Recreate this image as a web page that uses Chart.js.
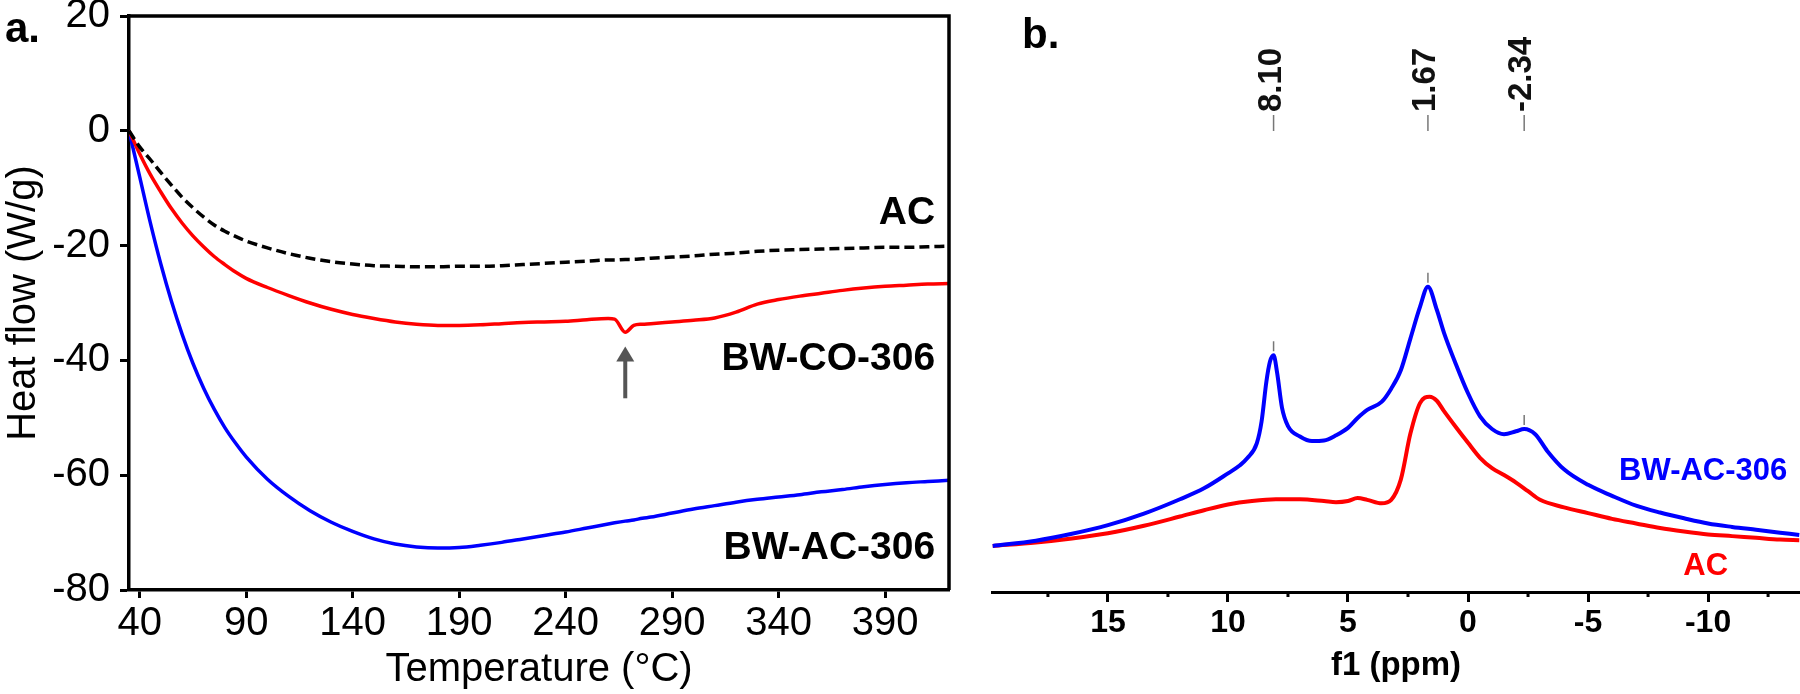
<!DOCTYPE html>
<html>
<head>
<meta charset="utf-8">
<script src="https://cdn.jsdelivr.net/npm/chart.js@4.4.1/dist/chart.umd.min.js"></script>
<style>
  html, body { margin: 0; padding: 0; background: #fff; }
  #wrap { position: relative; width: 1800px; height: 694px; overflow: hidden; }
  #dsc { position: absolute; left: 0; top: 0; }
  #nmr { position: absolute; left: 980px; top: 0; }
</style>
</head>
<body>
<div id="wrap">
  <canvas id="dsc" width="965" height="694"></canvas>
  <canvas id="nmr" width="820" height="694"></canvas>
</div>
<script>
// ---- panel a: DSC heat flow (W/g) vs temperature (°C)
const dscTemp = [35, 40, 45, 50, 55, 60, 65, 70, 75, 80, 85, 90, 100, 110, 120, 130, 140, 150, 160, 170,
  180, 190, 200, 210, 220, 230, 240, 250, 260, 263, 268, 272, 276, 280, 290, 300, 310, 320, 330, 340,
  350, 360, 370, 380, 390, 400, 410, 420];
const flowAC = [0, -2.8, -5.0, -7.3, -9.5, -11.6, -13.4, -15.0, -16.4, -17.5, -18.4, -19.2, -20.4, -21.4, -22.2, -22.8, -23.2, -23.5, -23.6, -23.7,
  -23.7, -23.6, -23.6, -23.5, -23.3, -23.1, -22.9, -22.7, -22.5, -22.5, -22.4, -22.4, -22.3, -22.2, -22.0, -21.8, -21.5, -21.3, -21.0, -20.8,
  -20.7, -20.6, -20.5, -20.4, -20.3, -20.3, -20.2, -20.1];
const flowCO = [0, -4.0, -7.6, -10.7, -13.6, -16.1, -18.3, -20.2, -21.9, -23.3, -24.6, -25.7, -27.3, -28.7, -30.0, -31.1, -32.0, -32.7, -33.3, -33.7,
  -33.9, -33.9, -33.8, -33.6, -33.4, -33.3, -33.2, -32.9, -32.7, -32.8, -35.1, -33.9, -33.7, -33.6, -33.3, -33.0, -32.6, -31.6, -30.2, -29.4,
  -28.8, -28.3, -27.8, -27.4, -27.1, -26.9, -26.7, -26.6];
const flowBW = [0, -8.0, -16.0, -23.3, -29.8, -35.5, -40.5, -44.8, -48.5, -51.7, -54.4, -56.8, -60.7, -63.7, -66.2, -68.2, -69.8, -71.1, -72.0, -72.5,
  -72.7, -72.6, -72.2, -71.7, -71.1, -70.5, -69.9, -69.2, -68.5, -68.3, -68.0, -67.8, -67.5, -67.3, -66.6, -65.9, -65.3, -64.7, -64.2, -63.8,
  -63.4, -62.9, -62.5, -62.0, -61.6, -61.3, -61.1, -60.9];
const dscTicksX = [40, 90, 140, 190, 240, 290, 340, 390];

// ---- panel b: 1H NMR, f1 (ppm), intensity in arbitrary units
const ppmBW = [19.8, 18, 16.5, 15, 13.5, 12, 11, 10, 9.5, 9.2, 8.8, 8.6, 8.4, 8.25, 8.1, 7.95, 7.75, 7.5, 7.0, 6.5,
  6.0, 5.5, 5.0, 4.6, 4.2, 3.6, 3.2, 2.8, 2.4, 2.0, 1.67, 1.3, 1.0, 0.5, 0, -0.5, -1.0, -1.5, -2.0, -2.34,
  -2.8, -3.3, -4.0, -5.0, -6.0, -7.0, -8.0, -9.0, -10.0, -11.0, -12.0, -13.0, -13.8];
const intBW = [8.0, 8.9, 10.1, 11.6, 13.6, 16.1, 18.0, 20.6, 22.0, 23.2, 25.8, 29.6, 36.5, 40.0, 41.1, 38.0, 32.0, 28.8, 27.0, 26.2,
  26.3, 27.2, 28.5, 30.2, 31.6, 33.0, 35.3, 38.5, 44.0, 49.5, 53.0, 49.0, 45.0, 39.5, 34.5, 30.5, 28.3, 27.4, 27.9, 28.3,
  27.4, 24.5, 21.3, 18.6, 16.7, 15.0, 13.8, 12.8, 11.9, 11.3, 10.8, 10.3, 9.9];
const ppmAC = [19.8, 18, 16.5, 15, 13.5, 12, 11, 10, 9, 8, 7, 6, 5.5, 5.0, 4.6, 4.2, 3.6, 3.2, 2.8, 2.4,
  2.0, 1.6, 1.3, 1.0, 0.5, 0, -0.5, -1.0, -1.5, -2.0, -2.5, -3.0, -4.0, -5.0, -6.0, -7.0, -8.0, -9.0, -10.0, -11.0,
  -12.0, -13.0, -13.8];
const intAC = [8.0, 8.6, 9.3, 10.2, 11.5, 13.1, 14.2, 15.2, 15.8, 16.1, 16.1, 15.8, 15.6, 15.8, 16.3, 16.0, 15.4, 16.0, 19.5, 27.5,
  32.8, 33.9, 33.2, 31.4, 28.6, 25.9, 23.3, 21.5, 20.3, 19.0, 17.5, 16.0, 14.7, 13.7, 12.7, 11.9, 11.1, 10.5, 10.0, 9.7,
  9.4, 9.1, 9.0];
const nmrTicksX = [15, 10, 5, 0, -5, -10];
const nmrMinorX = [17.5, 12.5, 7.5, 2.5, -2.5, -7.5, -12.5];
const peakPpm = [8.10, 1.67, -2.34];
const peakText = ['8.10', '1.67', '-2.34'];

const FAM = "'Liberation Sans', Arial, Helvetica, sans-serif";
const pts = (xs, ys) => xs.map((x, i) => ({ x: x, y: ys[i] }));

const dscDecor = {
  id: 'dscDecor',
  afterDraw(chart) {
    const { ctx, chartArea: a, scales: { x, y } } = chart;
    ctx.save();
    // top and right frame
    ctx.strokeStyle = '#000';
    ctx.lineWidth = 3.5;
    ctx.beginPath();
    ctx.moveTo(a.left, a.top);
    ctx.lineTo(a.right, a.top);
    ctx.lineTo(a.right, a.bottom);
    ctx.stroke();
    // curve labels
    ctx.fillStyle = '#000';
    ctx.font = 'bold 39px ' + FAM;
    ctx.textAlign = 'right';
    ctx.textBaseline = 'alphabetic';
    ctx.fillText('AC', x.getPixelForValue(413.5), y.getPixelForValue(-16.3));
    ctx.fillText('BW-CO-306', x.getPixelForValue(413.5), y.getPixelForValue(-41.6));
    ctx.fillText('BW-AC-306', x.getPixelForValue(413.5), y.getPixelForValue(-74.6));
    // arrow marking the dip
    const ax = x.getPixelForValue(268);
    const yTip = y.getPixelForValue(-37.6);
    const yEnd = y.getPixelForValue(-46.6);
    ctx.strokeStyle = '#555';
    ctx.fillStyle = '#555';
    ctx.lineWidth = 4;
    ctx.beginPath();
    ctx.moveTo(ax, yEnd);
    ctx.lineTo(ax, yTip + 12);
    ctx.stroke();
    ctx.beginPath();
    ctx.moveTo(ax, yTip);
    ctx.lineTo(ax - 9, yTip + 15);
    ctx.lineTo(ax + 9, yTip + 15);
    ctx.closePath();
    ctx.fill();
    // panel letter
    ctx.fillStyle = '#000';
    ctx.textAlign = 'left';
    ctx.font = 'bold 42px ' + FAM;
    ctx.fillText('a.', 5, 42);
    ctx.restore();
  }
};

new Chart(document.getElementById('dsc'), {
  type: 'line',
  data: {
    datasets: [
      { label: 'AC', data: pts(dscTemp, flowAC), borderColor: '#000', borderDash: [10, 5], borderWidth: 3.5,
        pointRadius: 0, cubicInterpolationMode: 'monotone' },
      { label: 'BW-CO-306', data: pts(dscTemp, flowCO), borderColor: '#ff0000', borderWidth: 3.5,
        pointRadius: 0, cubicInterpolationMode: 'monotone' },
      { label: 'BW-AC-306', data: pts(dscTemp, flowBW), borderColor: '#0000ff', borderWidth: 3.5,
        pointRadius: 0, cubicInterpolationMode: 'monotone' }
    ]
  },
  options: {
    responsive: false,
    animation: false,
    layout: { padding: { left: 0, top: 16, right: 16, bottom: 0 } },
    plugins: { legend: { display: false }, tooltip: { enabled: false } },
    scales: {
      x: {
        type: 'linear', min: 35, max: 420,
        afterBuildTicks: s => { s.ticks = dscTicksX.map(v => ({ value: v })); },
        afterFit: s => { s.height = 104; s.paddingLeft = 0; s.paddingRight = 0; },
        border: { color: '#000', width: 3.5 },
        grid: { drawOnChartArea: false, drawTicks: true, tickLength: 8, tickWidth: 3, tickColor: '#000' },
        ticks: { color: '#000', font: { family: FAM, size: 40 }, padding: 2, maxRotation: 0,
          callback: v => String(v) },
        title: { display: true, text: 'Temperature (°C)', color: '#000',
          font: { family: FAM, size: 40 }, padding: { top: 0, bottom: 0 } }
      },
      y: {
        min: -80, max: 20,
        ticks: { stepSize: 20, color: '#000', font: { family: FAM, size: 40 }, padding: 10 },
        afterFit: s => { s.width = 129; s.paddingTop = 0; s.paddingBottom = 0; },
        border: { color: '#000', width: 3.5 },
        grid: { drawOnChartArea: false, drawTicks: true, tickLength: 9, tickWidth: 3, tickColor: '#000' },
        title: { display: true, text: 'Heat flow (W/g)', color: '#000',
          font: { family: FAM, size: 40 }, padding: { top: 0, bottom: 0 } }
      }
    }
  },
  plugins: [dscDecor]
});

const nmrDecor = {
  id: 'nmrDecor',
  afterDraw(chart) {
    const { ctx, chartArea: a, scales: { x, y } } = chart;
    ctx.save();
    // minor ticks
    ctx.strokeStyle = '#000';
    ctx.lineWidth = 3;
    nmrMinorX.forEach(v => {
      const px = x.getPixelForValue(v);
      ctx.beginPath();
      ctx.moveTo(px, a.bottom);
      ctx.lineTo(px, a.bottom + 5);
      ctx.stroke();
    });
    // peak picks
    const blue = chart.data.datasets[0].data;
    peakPpm.forEach((p, i) => {
      const px = x.getPixelForValue(p);
      ctx.strokeStyle = '#777';
      ctx.lineWidth = 1.5;
      ctx.beginPath();
      ctx.moveTo(px, a.top + 99);
      ctx.lineTo(px, a.top + 115);
      ctx.stroke();
      let best = blue[0];
      blue.forEach(d => { if (Math.abs(d.x - p) < Math.abs(best.x - p)) best = d; });
      const py = y.getPixelForValue(best.y);
      ctx.beginPath();
      ctx.moveTo(px, py - 14);
      ctx.lineTo(px, py - 4);
      ctx.stroke();
      ctx.save();
      ctx.translate(px - 2, a.top + 96);
      ctx.rotate(-Math.PI / 2);
      ctx.fillStyle = '#111';
      ctx.font = 'bold 33px ' + FAM;
      ctx.textAlign = 'left';
      ctx.textBaseline = 'middle';
      ctx.fillText(peakText[i], 0, 0);
      ctx.restore();
    });
    // series labels
    ctx.font = 'bold 31px ' + FAM;
    ctx.textBaseline = 'alphabetic';
    ctx.textAlign = 'right';
    ctx.fillStyle = '#0000ff';
    ctx.fillText('BW-AC-306', x.getPixelForValue(-13.3), y.getPixelForValue(19.4));
    ctx.textAlign = 'center';
    ctx.fillStyle = '#ff0000';
    ctx.fillText('AC', x.getPixelForValue(-9.9), y.getPixelForValue(2.95));
    // panel letter
    ctx.fillStyle = '#000';
    ctx.textAlign = 'left';
    ctx.font = 'bold 42px ' + FAM;
    ctx.fillText('b.', 42, 48);
    ctx.restore();
  }
};

new Chart(document.getElementById('nmr'), {
  type: 'line',
  data: {
    datasets: [
      { label: 'BW-AC-306', data: pts(ppmBW, intBW), borderColor: '#0000ff', borderWidth: 4,
        pointRadius: 0, cubicInterpolationMode: 'monotone' },
      { label: 'AC', data: pts(ppmAC, intAC), borderColor: '#ff0000', borderWidth: 4,
        pointRadius: 0, cubicInterpolationMode: 'monotone' }
    ]
  },
  options: {
    responsive: false,
    animation: false,
    layout: { padding: { left: 12, top: 16, right: 0, bottom: 0 } },
    plugins: { legend: { display: false }, tooltip: { enabled: false } },
    scales: {
      x: {
        type: 'linear', reverse: true, min: -13.83, max: 19.83,
        afterBuildTicks: s => { s.ticks = nmrTicksX.map(v => ({ value: v })); },
        afterFit: s => { s.height = 102; s.paddingLeft = 0; s.paddingRight = 0; },
        border: { color: '#000', width: 3 },
        grid: { drawOnChartArea: false, drawTicks: true, tickLength: 10, tickWidth: 3, tickColor: '#000' },
        ticks: { color: '#000', font: { family: FAM, size: 32, weight: 'bold' }, padding: 2, maxRotation: 0,
          callback: v => String(v) },
        title: { display: true, text: 'f1 (ppm)', color: '#000',
          font: { family: FAM, size: 33, weight: 'bold' }, padding: { top: 0, bottom: 8 } }
      },
      y: { display: false, min: 0, max: 100 }
    }
  },
  plugins: [nmrDecor]
});
</script>
</body>
</html>
